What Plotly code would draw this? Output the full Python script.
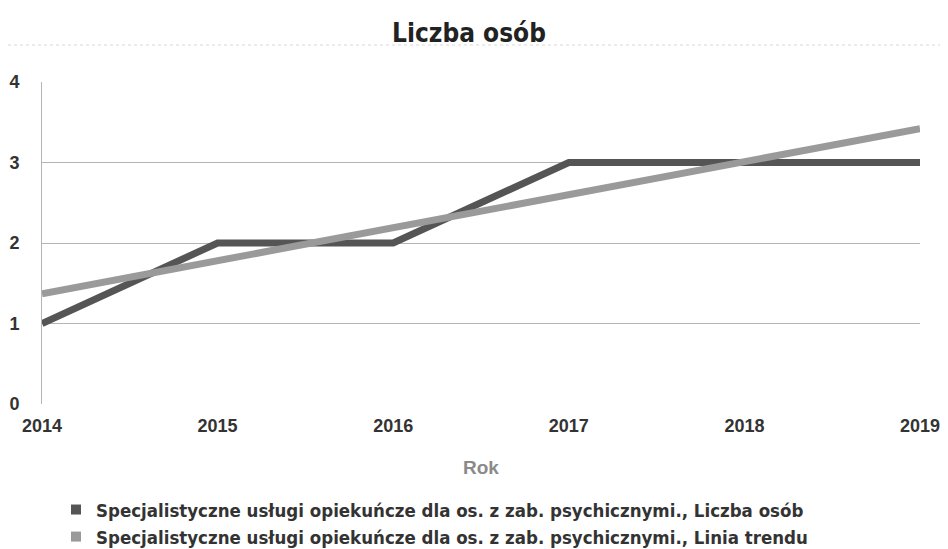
import plotly.graph_objects as go

years = [2014, 2015, 2016, 2017, 2018, 2019]
liczba_osob = [1, 2, 2, 3, 3, 3]
linia_trendu = [1.37, 1.78, 2.19, 2.60, 3.01, 3.42]
series_names = [
    "Specjalistyczne usługi opiekuńcze dla os. z zab. psychicznymi., Liczba osób",
    "Specjalistyczne usługi opiekuńcze dla os. z zab. psychicznymi., Linia trendu",
]
colors = ["#555555", "#9a9a9a"]
narrow = "DejaVu Sans Condensed, Liberation Sans Narrow, Arial Narrow, sans-serif"

fig = go.Figure()
fig.add_trace(go.Scatter(x=years, y=liczba_osob, mode="lines",
                         line=dict(color=colors[0], width=7), showlegend=False))
fig.add_trace(go.Scatter(x=years, y=linia_trendu, mode="lines",
                         line=dict(color=colors[1], width=7), showlegend=False))
for name, c in zip(series_names, colors):
    fig.add_trace(go.Scatter(x=[None], y=[None], mode="markers", name=f"<b>{name}</b>",
                             marker=dict(symbol="square", size=10, color=c)))

# page body has an 8px margin, so the figure is laid out 8px smaller
OFF = 8
W, H = 948 - OFF, 549 - OFF
ml, mr, mt, mb = 42 - OFF, 28, 82 - OFF, 145
pw, ph = W - ml - mr, H - mt - mb

fig.update_layout(
    width=W, height=H,
    margin=dict(l=ml, r=mr, t=mt, b=mb, autoexpand=False),
    paper_bgcolor="white", plot_bgcolor="white",
    title=dict(text="<b>Liczba osób</b>", x=(469 - OFF) / W, xanchor="center", xref="container",
               y=1 - (33 - OFF) / H, yanchor="middle", yref="container",
               font=dict(family=narrow, size=26, color="#222")),
    xaxis=dict(range=[2014, 2019], tickvals=years, ticktext=[f"<b>{y}</b>" for y in years],
               showgrid=False, zeroline=False, showline=False, automargin=False,
               tickfont=dict(family="Liberation Sans, Arial, sans-serif", size=18, color="#333"),
               ticks="", ticklabelstandoff=9,
               title=dict(text="<b>Rok</b>", font=dict(family="Liberation Sans, Arial, sans-serif", size=19, color="#8a8a8a"),
                          standoff=25)),
    yaxis=dict(range=[0, 4], tickvals=[0, 1, 2, 3, 4], ticktext=["<b>0</b>", "<b>1</b>", "<b>2</b>", "<b>3</b>", "<b>4</b>"],
               showgrid=True, gridcolor="#b5b5b5", gridwidth=1, zeroline=False, automargin=False,
               showline=True, linecolor="#b5b5b5", linewidth=1, ticks="",
               tickfont=dict(family="Liberation Sans, Arial, sans-serif", size=18, color="#333"),
               ticklabelstandoff=18),
    legend=dict(xref="container", yref="container", x=(56 - OFF) / W, xanchor="left",
                y=1 - (491 - OFF) / H, yanchor="top", orientation="v",
                font=dict(family=narrow, size=18.5, color="#333"),
                tracegroupgap=0, itemwidth=30, bgcolor="rgba(0,0,0,0)"),
    showlegend=True,
)
fig.add_shape(type="line", xref="paper", yref="paper",
              x0=-ml / pw, x1=1 + mr / pw, y0=1 + 37 / ph, y1=1 + 37 / ph,
              line=dict(color="#d8d8d8", width=1, dash="dot"))
fig.write_html("out.html")
